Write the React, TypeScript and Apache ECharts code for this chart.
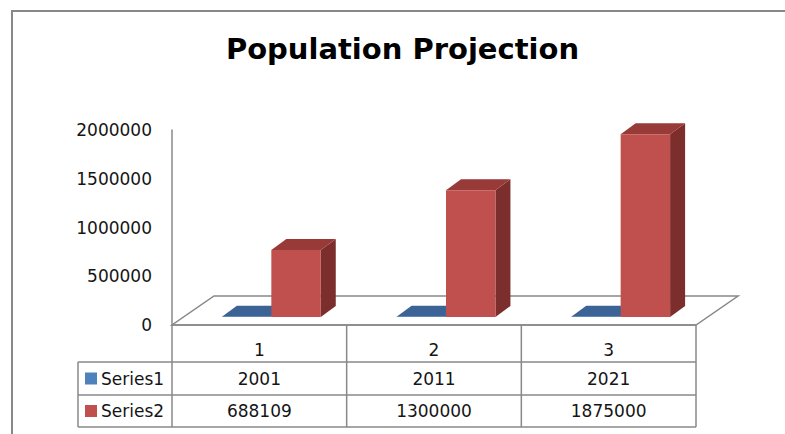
import React, { useEffect, useRef } from "react";
import * as echarts from "echarts";

// Chart data
const categories = ["1", "2", "3"];
const seriesNames = ["Series1", "Series2"];
const series1Values = [2001, 2011, 2021];
const series2Values = [688109, 1300000, 1875000];
const yTicks = { min: 0, max: 2000000, interval: 500000 };

// Layout (pixels)
const W = 785;
const H = 434;
const GRID_LEFT = 172;
const GRID_RIGHT_X = 696;
const GRID_TOP = 130;
const GRID_BOTTOM_Y = 325;
const FLOOR_DX = 42;
const FLOOR_DY = -29;
const BAR_FRONT = [12, -8];
const BAR_DEPTH = [15, -11];
const BAR_WIDTH_RATIO = 0.283;
const TABLE_ROWS = [325, 362, 395, 427];
const LEGEND_LEFT = 78;

const FONT = "DejaVu Sans";
const TEXT_COLOR = "#151515";
const LINE_COLOR = "#888888";

const faceColors = [
  { front: "#4F81BD", top: "#3B6395", side: "#2F4F78" },
  { front: "#C0504D", top: "#983A37", side: "#7B2E2C" },
];

function makeRenderItem(seriesIdx: number) {
  return (params: any, api: any) => {
    const idx = api.value(0);
    const val = api.value(1);
    const base = api.coord([idx, 0]);
    const topPt = api.coord([idx, val]);
    const band = api.size([1, 0])[0];
    const w = band * BAR_WIDTH_RATIO;
    const x0 = base[0] + (seriesIdx - 1) * w + BAR_FRONT[0];
    const x1 = x0 + w;
    const yb = base[1] + BAR_FRONT[1];
    const yt = topPt[1] + BAR_FRONT[1];
    const dx = BAR_DEPTH[0];
    const dy = BAR_DEPTH[1];
    const c = faceColors[seriesIdx];
    return {
      type: "group",
      children: [
        {
          type: "polygon",
          shape: { points: [[x1, yt], [x1, yb], [x1 + dx, yb + dy], [x1 + dx, yt + dy]] },
          style: { fill: c.side },
        },
        {
          type: "polygon",
          shape: { points: [[x0, yt], [x1, yt], [x1 + dx, yt + dy], [x0 + dx, yt + dy]] },
          style: { fill: c.top },
        },
        {
          type: "rect",
          shape: { x: x0, y: yt, width: w, height: Math.max(yb - yt, 0) },
          style: { fill: c.front },
        },
      ],
    };
  };
}

export default function App() {
  const ref = useRef<HTMLDivElement>(null);

  useEffect(() => {
    if (!ref.current) return;
    const chart = echarts.init(ref.current, undefined, { renderer: "svg", width: W, height: H });

    const valueSets = [series1Values, series2Values];

    chart.setOption({
      animation: false,
      backgroundColor: "#ffffff",
      grid: {
        left: GRID_LEFT,
        right: W - GRID_RIGHT_X,
        top: GRID_TOP,
        bottom: H - GRID_BOTTOM_Y,
        containLabel: false,
      },
      xAxis: {
        type: "category",
        data: categories,
        axisLine: { show: false },
        axisTick: { show: false },
        axisLabel: {
          margin: 16,
          fontFamily: FONT,
          fontSize: 17,
          color: TEXT_COLOR,
        },
      },
      yAxis: {
        type: "value",
        min: yTicks.min,
        max: yTicks.max,
        interval: yTicks.interval,
        splitLine: { show: false },
        axisTick: { show: false },
        axisLine: { show: true, lineStyle: { color: LINE_COLOR, width: 1.5 } },
        axisLabel: {
          margin: 20,
          fontFamily: FONT,
          fontSize: 17,
          color: TEXT_COLOR,
          formatter: (v: number) => String(v),
        },
      },
      series: valueSets.map((vals, si) => ({
        type: "custom",
        name: seriesNames[si],
        renderItem: makeRenderItem(si),
        encode: { x: 0, y: 1 },
        data: vals.map((v, i) => [i, v]),
        z: 3,
      })),
    });

    // Floor, data table and frame
    const cx = categories.map((_, i) => chart.convertToPixel({ xAxisIndex: 0 }, i) as number);
    const bandW = (GRID_RIGHT_X - GRID_LEFT) / categories.length;
    const colEdges = [GRID_LEFT, ...cx.map((x) => x + bandW / 2)];
    const lineStyle = { stroke: LINE_COLOR, lineWidth: 1.5 };

    const graphics: any[] = [];
    graphics.push({
      type: "rect",
      shape: { x: 12, y: 11, width: W + 20, height: H + 20 },
      style: { fill: "none", stroke: LINE_COLOR, lineWidth: 2 },
      z: 0,
    });
    graphics.push({
      type: "text",
      x: W / 2 + 10,
      y: 49,
      style: {
        text: "Population Projection",
        font: `bold 29px "${FONT}"`,
        fill: "#000",
        align: "center",
        verticalAlign: "middle",
      },
      z: 1,
    });
    graphics.push({
      type: "polygon",
      shape: {
        points: [
          [GRID_LEFT, GRID_BOTTOM_Y],
          [GRID_RIGHT_X, GRID_BOTTOM_Y],
          [GRID_RIGHT_X + FLOOR_DX, GRID_BOTTOM_Y + FLOOR_DY],
          [GRID_LEFT + FLOOR_DX, GRID_BOTTOM_Y + FLOOR_DY],
        ],
      },
      style: { fill: "#fff", stroke: LINE_COLOR, lineWidth: 1.5 },
      z: 1,
    });
    // horizontal table lines
    TABLE_ROWS.forEach((y, r) => {
      graphics.push({
        type: "line",
        shape: { x1: r === 0 ? GRID_LEFT : LEGEND_LEFT, y1: y, x2: GRID_RIGHT_X, y2: y },
        style: lineStyle,
        z: 4,
      });
    });
    // vertical table lines
    colEdges.forEach((x) => {
      graphics.push({
        type: "line",
        shape: { x1: x, y1: TABLE_ROWS[0], x2: x, y2: TABLE_ROWS[3] },
        style: lineStyle,
        z: 4,
      });
    });
    graphics.push({
      type: "line",
      shape: { x1: LEGEND_LEFT, y1: TABLE_ROWS[1], x2: LEGEND_LEFT, y2: TABLE_ROWS[3] },
      style: lineStyle,
      z: 4,
    });
    // legend keys and value cells
    valueSets.forEach((vals, si) => {
      const yMid = (TABLE_ROWS[si + 1] + TABLE_ROWS[si + 2]) / 2;
      graphics.push({
        type: "rect",
        shape: { x: 85, y: yMid - 6, width: 12, height: 12 },
        style: { fill: faceColors[si].front },
        z: 4,
      });
      graphics.push({
        type: "text",
        x: 101,
        y: yMid,
        style: {
          text: seriesNames[si],
          font: `17px "${FONT}"`,
          fill: TEXT_COLOR,
          align: "left",
          verticalAlign: "middle",
        },
        z: 4,
      });
      vals.forEach((v, i) => {
        graphics.push({
          type: "text",
          x: cx[i],
          y: yMid,
          style: {
            text: String(v),
            font: `17px "${FONT}"`,
            fill: TEXT_COLOR,
            align: "center",
            verticalAlign: "middle",
          },
          z: 4,
        });
      });
    });

    chart.setOption({ graphic: graphics });

    return () => chart.dispose();
  }, []);

  return (
    <div
      ref={ref}
      style={{ position: "fixed", left: 0, top: 0, width: W, height: H, background: "#fff" }}
    />
  );
}
